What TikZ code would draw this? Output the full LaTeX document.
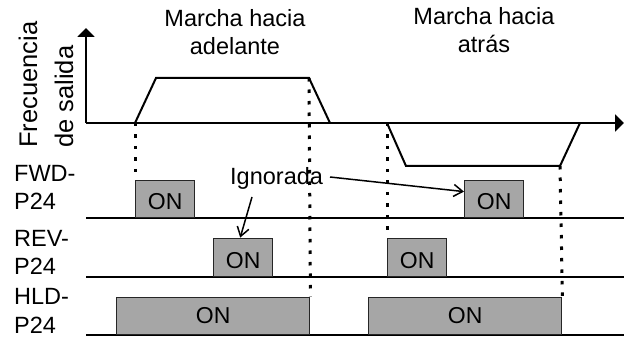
\documentclass[tikz,border=0pt]{standalone}
\usepackage{fontspec}
\setmainfont{Liberation Sans}
\usetikzlibrary{arrows.meta}
\begin{document}
\begin{tikzpicture}[x=1pt,y=-1pt,
  txt/.style={font=\fontsize{23.5}{28}\selectfont, inner sep=0pt},
  bigtxt/.style={font=\fontsize{25.5}{28}\selectfont, inner sep=0pt},
  onbox/.style={draw=black!85, line width=1.4pt, fill=black!35, inner sep=0pt,
    font=\fontsize{23}{24}\selectfont, anchor=south west, text depth=0pt, text height=16pt},
  wave/.style={line width=2pt},
  axis/.style={line width=2pt, -{Triangle[length=9pt,width=17pt]}},
  base/.style={line width=1.5pt},
  dots/.style={line width=3pt, dash pattern=on 3.5pt off 8pt},
  note/.style={line width=1.5pt, -{Straight Barb[length=9pt,width=12pt,line width=1.5pt]}}]
\useasboundingbox (0,0) rectangle (624,339);
\fill[white] (0,0) rectangle (624,339);

% axes
\coordinate (o) at (86,123);
\coordinate (ytip) at (86,28);
\coordinate (xtip) at (624,123);
\draw[axis] (o) -- (ytip);
\draw[axis] (o) -- (xtip);

% waveforms
\coordinate (a1) at (135,123);
\coordinate (a2) at (156,78);
\coordinate (a3) at (309,78);
\coordinate (a4) at (330,123);
\coordinate (b1) at (387,123);
\coordinate (b2) at (406,166);
\coordinate (b3) at (560,166);
\coordinate (b4) at (580,123);
\draw[wave, line join=miter] (a1) -- (a2) -- (a3) -- (a4);
\draw[wave, line join=miter] (b1) -- (b2) -- (b3) -- (b4);

% baselines
\coordinate (l1) at (86,218);  \coordinate (r1) at (624,218);
\coordinate (l2) at (86,277);  \coordinate (r2) at (624,277);
\coordinate (l3) at (86,335);  \coordinate (r3) at (624,335);
\draw[base] (l1) -- (r1);
\draw[base] (l2) -- (r2);
\draw[line width=2.5pt] (l3) -- (r3);

% boxes
\node[onbox, minimum width=59pt, minimum height=37pt] (f1) at (135,218) {\raisebox{-3pt}{ON}};
\node[onbox, minimum width=59pt, minimum height=37pt] (f2) at (464,218) {\raisebox{-3pt}{ON}};
\node[onbox, minimum width=59pt, minimum height=38pt] (r1b) at (213,277) {\raisebox{-3pt}{ON}};
\node[onbox, minimum width=59pt, minimum height=38pt] (r2b) at (387,277) {\raisebox{-3pt}{ON}};
\node[onbox, minimum width=193pt, minimum height=37pt] (h1) at (116,335) {ON};
\node[onbox, minimum width=193pt, minimum height=37pt] (h2) at (368,335) {ON};

% dotted guides
\draw[dots] (a1) -- (f1.north west);
\draw[dots] (a3) -- (h1.north east);
\draw[dots] (b1) -- (r2b.north west);
\draw[dots] (b3) -- (h2.north east);

% texts
\node[bigtxt, rotate=90, anchor=base west] (fr) at (37,148) {Frecuencia};
\node[bigtxt, rotate=90, anchor=base west] (ds) at (73,148) {de salida};
\node[txt, anchor=base] (m1) at (235,27) {Marcha hacia};
\node[txt, anchor=base] (m2) at (235,55) {adelante};
\node[txt, anchor=base] (m3) at (484,25) {Marcha hacia};
\node[txt, anchor=base] (m4) at (484,53) {atrás};
\node[txt, anchor=base west] (s1) at (14,182) {FWD-};
\node[txt, anchor=base west] (s2) at (14,210) {P24};
\node[txt, anchor=base west] (s3) at (14,247) {REV-};
\node[txt, anchor=base west] (s4) at (14,275) {P24};
\node[txt, anchor=base west] (s5) at (14,305) {HLD-};
\node[txt, anchor=base west] (s6) at (14,333) {P24};
\node[txt, anchor=base west] (ig) at (230,185) {Ignorada};

% annotation arrows
\draw[note] (252,197) -- ([xshift=-3pt]r1b.north);
\draw[note] (330,177) -- ([yshift=-12pt]f2.north west);
\end{tikzpicture}
\end{document}
